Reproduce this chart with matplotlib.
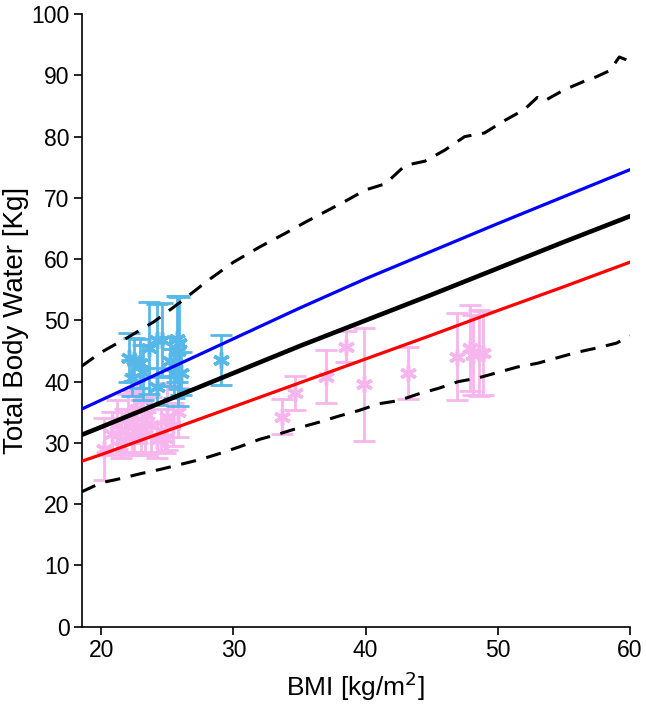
import matplotlib
matplotlib.use("Agg")
import matplotlib.pyplot as plt
import numpy as np

plt.rcParams['font.family'] = ['Liberation Sans', 'DejaVu Sans']

# Reference curves (BMI grid and TBW values)
curve_bmi = [18.5, 20, 25, 30, 35, 40, 45, 50, 55, 60]
mean_tbw = [31.3, 32.6, 37.0, 41.4, 45.8, 50.0, 54.2, 58.5, 62.8, 67.0]
male_tbw = [35.5, 37.0, 42.0, 47.0, 52.0, 56.8, 61.3, 65.8, 70.2, 74.6]
female_tbw = [27.0, 28.1, 32.0, 35.9, 39.8, 43.7, 47.6, 51.6, 55.5, 59.5]

upper_bmi = [18.5, 20, 22, 24, 26, 28, 30, 32, 34,
             35.5, 37, 38.5, 40, 41.5, 43, 44.5, 46, 47.5, 49, 50.5, 52, 53, 53.5,
             55, 56.5, 57.5, 58.5, 59.2, 60]
upper_tbw = [42.5, 44.8, 47.2, 49.8, 53.0, 56.4, 59.5, 62.0, 64.3,
             66.1, 67.8, 69.5, 71.3, 72.3, 75.3, 76.0, 77.8, 80.0, 80.6, 82.6, 84.4, 86.4, 85.8,
             87.6, 89.0, 89.8, 90.8, 93.0, 92.3]

lower_bmi = [18.5, 20, 21.5, 23, 24.5, 26, 27.5, 29, 30.5, 32, 33.5, 35, 36.5, 38,
             39.5, 41, 42.5, 44, 45.5, 47, 48.5, 50, 51.5, 53, 54.5, 56, 57.5, 59, 60]
lower_tbw = [22.0, 23.5, 24.2, 25.0, 25.7, 26.5, 27.3, 28.3, 29.4, 30.6, 31.5, 32.5, 33.4, 34.4,
             35.3, 36.4, 36.9, 38.0, 38.9, 40.0, 40.6, 41.5, 42.4, 43.0, 43.9, 44.8, 45.5, 46.3, 47.5]

# Measured data: blue group
blue_bmi = [22.1, 22.3, 22.5, 22.9, 23.2, 23.6, 24.2, 24.2, 24.6, 25.2, 25.5, 25.7, 25.8, 25.9, 26.0, 29.1]
blue_tbw = [43.9, 40.6, 43.6, 43.0, 41.5, 45.5, 46.8, 39.2, 46.8, 43.3, 41.4, 47.0, 45.0, 46.3, 41.4, 43.6]
blue_err = [4.0, 3.0, 3.5, 4.0, 4.5, 7.5, 5.8, 3.0, 6.0, 4.0, 4.0, 7.0, 9.0, 7.5, 3.5, 4.1]

# Measured data: pink group
pink_bmi = [20.2, 20.8, 21.2, 21.5, 21.8, 22.0, 22.3, 22.5, 22.7, 23.0, 23.1, 23.3, 23.5, 23.8,
            24.2, 24.5, 24.8, 25.0, 25.4, 25.8,
            33.7, 34.7, 37.0, 38.5, 39.9, 43.2, 46.9, 47.9, 48.1, 48.6, 48.9]
pink_tbw = [29.0, 31.5, 33.0, 30.5, 32.0, 34.0, 31.0, 33.5, 35.5, 32.5, 37.0, 31.5, 34.5, 33.0,
            30.5, 32.0, 30.8, 34.3, 33.0, 35.0,
            34.3, 38.2, 40.8, 45.7, 39.6, 41.4, 44.1, 45.5, 44.4, 44.7, 44.7]
pink_err = [5.0, 3.5, 4.0, 3.0, 3.5, 4.0, 3.0, 5.0, 5.5, 4.5, 4.0, 3.5, 3.0, 4.5,
            3.0, 3.5, 2.5, 5.5, 3.5, 4.0,
            2.9, 2.8, 4.3, 2.5, 9.2, 4.3, 7.1, 7.0, 6.5, 7.0, 6.8]

x_ticks = [20, 30, 40, 50, 60]
y_ticks = [0, 10, 20, 30, 40, 50, 60, 70, 80, 90, 100]

blue_c = '#55b8e8'
pink_c = '#f7b5ee'

fig = plt.figure(figsize=(6.46, 7.05), dpi=100)
ax = fig.add_axes([0.127, 0.111, 0.848, 0.869])

asterisk = (6, 2, 0)
ax.errorbar(pink_bmi, pink_tbw, yerr=pink_err, fmt='none', ecolor=pink_c,
            elinewidth=2, capsize=8, capthick=2, zorder=2)
ax.plot(pink_bmi, pink_tbw, linestyle='none', marker=asterisk, markersize=12,
        markeredgewidth=2.5, color=pink_c, zorder=2)
ax.errorbar(blue_bmi, blue_tbw, yerr=blue_err, fmt='none', ecolor=blue_c,
            elinewidth=2, capsize=8, capthick=2, zorder=3)
ax.plot(blue_bmi, blue_tbw, linestyle='none', marker=asterisk, markersize=12,
        markeredgewidth=2.5, color=blue_c, zorder=3)

ax.plot(upper_bmi, upper_tbw, color='black', lw=2.2, dashes=(5, 3.5), zorder=4)
ax.plot(lower_bmi, lower_tbw, color='black', lw=2.2, dashes=(5, 3.5), zorder=4)
ax.plot(curve_bmi, male_tbw, color='#0000ff', lw=2.3, zorder=5)
ax.plot(curve_bmi, female_tbw, color='#ff0000', lw=2.3, zorder=5)
ax.plot(curve_bmi, mean_tbw, color='black', lw=3.3, zorder=5)

ax.set_xlim(18.55, 60)
ax.set_ylim(0, 100)
ax.set_xticks(x_ticks)
ax.set_yticks(y_ticks)
ax.spines['top'].set_visible(False)
ax.spines['right'].set_visible(False)
for s in ['left', 'bottom']:
    ax.spines[s].set_linewidth(1.2)
ax.tick_params(direction='out', length=6, width=1.2, labelsize=16.5, pad=3)
ax.set_xlabel('BMI [kg/m$^2$]', fontsize=19, labelpad=5)
ax.set_ylabel('Total Body Water [Kg]', fontsize=20, labelpad=2)

fig.savefig('out.png', dpi=100)
